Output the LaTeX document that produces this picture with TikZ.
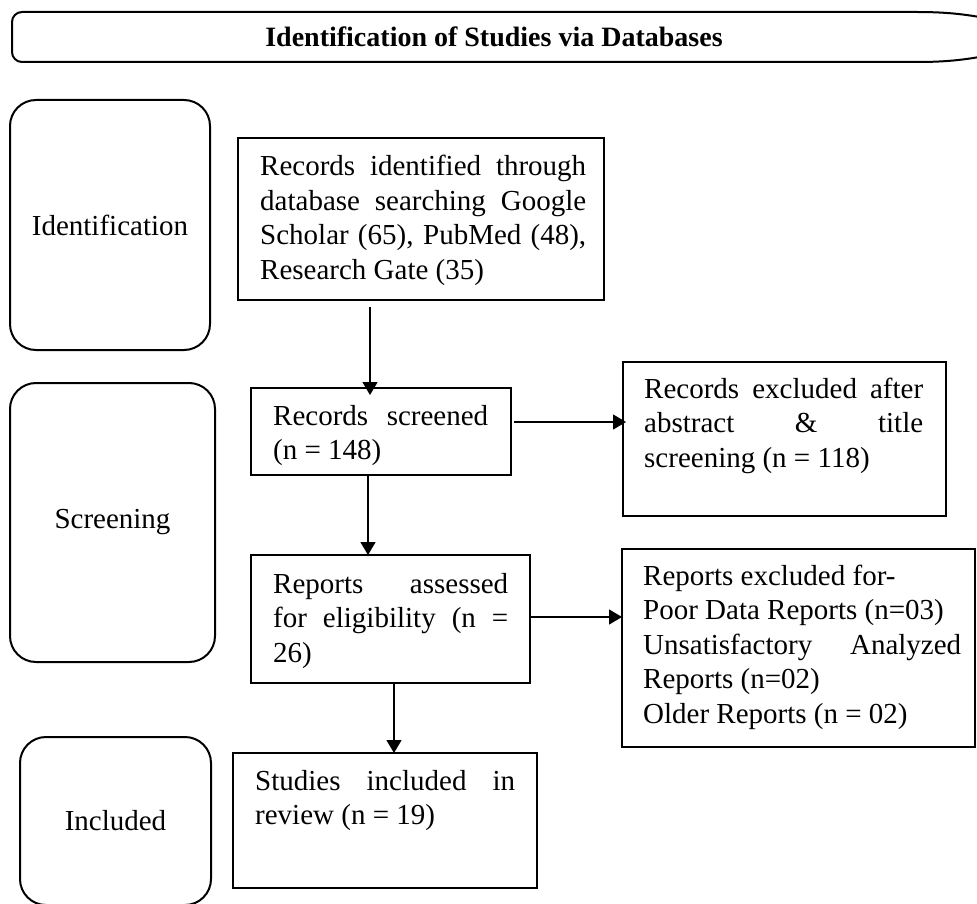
\documentclass[tikz,border=0pt]{standalone}
\usepackage{fontspec}
\setmainfont{Liberation Serif}
\usetikzlibrary{arrows.meta}
\hyphenpenalty=10000
\exhyphenpenalty=10000
\newcommand{\bodyfont}{\fontsize{29}{34.5}\selectfont\parindent=0pt}
\begin{document}
\begin{tikzpicture}[x=1pt,y=-1pt,
  box/.style={draw, line width=2.2pt, inner sep=0pt, outer sep=0pt, anchor=north west},
  side/.style={draw, line width=2pt, rounded corners=26pt, inner sep=0pt, outer sep=0pt, anchor=north west, align=center, font=\bodyfont},
  txt/.style={inner sep=0pt, anchor=base west, align=justify, font=\bodyfont},
  arr/.style={line width=1.4pt, -{Triangle[length=13pt,width=15pt]}}]
\useasboundingbox (0,0) rectangle (977,904);
% banner
\draw[line width=2pt] (917,12) -- (22,12) arc[start angle=90,end angle=180,radius=10pt] -- (12,52) arc[start angle=180,end angle=270,radius=10pt] -- (917,62)
  .. controls (945,62) and (965,60) .. (990,55);
\draw[line width=2pt] (917,12) .. controls (945,12) and (965,14) .. (990,19);
\node[font=\fontsize{28}{34}\selectfont\bfseries, inner sep=0pt] (title) at (494,37) {Identification of Studies via Databases};
% side labels
\node[side, minimum width=200pt, minimum height=250pt] (sidA) at (10,100) {Identification};
\node[side, minimum width=205pt, minimum height=279pt] (sidB) at (10,383) {Screening};
\node[side, minimum width=191pt, minimum height=168pt] (sidC) at (20,737) {Included};
% boxes
\node[box, minimum width=366pt, minimum height=162pt] (ident) at (238,138) {};
\node[txt, text width=326pt] (identT) at (260,176) {Records identified through\linebreak database searching Google\linebreak Scholar (65), PubMed (48),\linebreak Research Gate (35)};
\node[box, minimum width=260pt, minimum height=87pt] (scr) at (251,388) {};
\node[txt, text width=215pt] (scrT) at (273,425) {Records screened\linebreak (n = 148)};
\node[box, minimum width=279pt, minimum height=128pt] (ass) at (251,555) {};
\node[txt, text width=235pt] (assT) at (273,593) {Reports assessed\linebreak for eligibility (n =\linebreak 26)};
\node[box, minimum width=304pt, minimum height=135pt] (stu) at (233,753) {};
\node[txt, text width=260pt] (stuT) at (255,790) {Studies included in\linebreak review (n = 19)};
\node[box, minimum width=323pt, minimum height=154pt] (exc) at (623,362) {};
\node[txt, text width=279pt] (excT) at (644,398) {Records excluded after\linebreak abstract \& title\linebreak screening (n = 118)};
\node[box, minimum width=353pt, minimum height=198pt] (rep) at (622,549) {};
\node[txt, text width=318pt] (repT) at (643,585) {Reports excluded for-\\ Poor Data Reports (n=03)\\ Unsatisfactory Analyzed\linebreak Reports (n=02)\\ Older Reports (n = 02)};
% arrows
\draw[arr] ([xshift=132pt,yshift=-7pt]ident.south west) -- ([xshift=132pt,yshift=-7pt]ident.south west |- scr.north);
\draw[arr] ([xshift=3pt,yshift=-34pt]scr.north east) -- ([xshift=3pt,yshift=-34pt]scr.north east -| exc.west);
\draw[arr] ([xshift=117pt]scr.south west) -- ([xshift=117pt]scr.south west |- ass.north);
\draw[arr] ([yshift=-62pt]ass.north east) -- ([yshift=-62pt]ass.north east -| rep.west);
\draw[arr] ([xshift=143pt]ass.south west) -- ([xshift=143pt]ass.south west |- stu.north);
\end{tikzpicture}
\end{document}
